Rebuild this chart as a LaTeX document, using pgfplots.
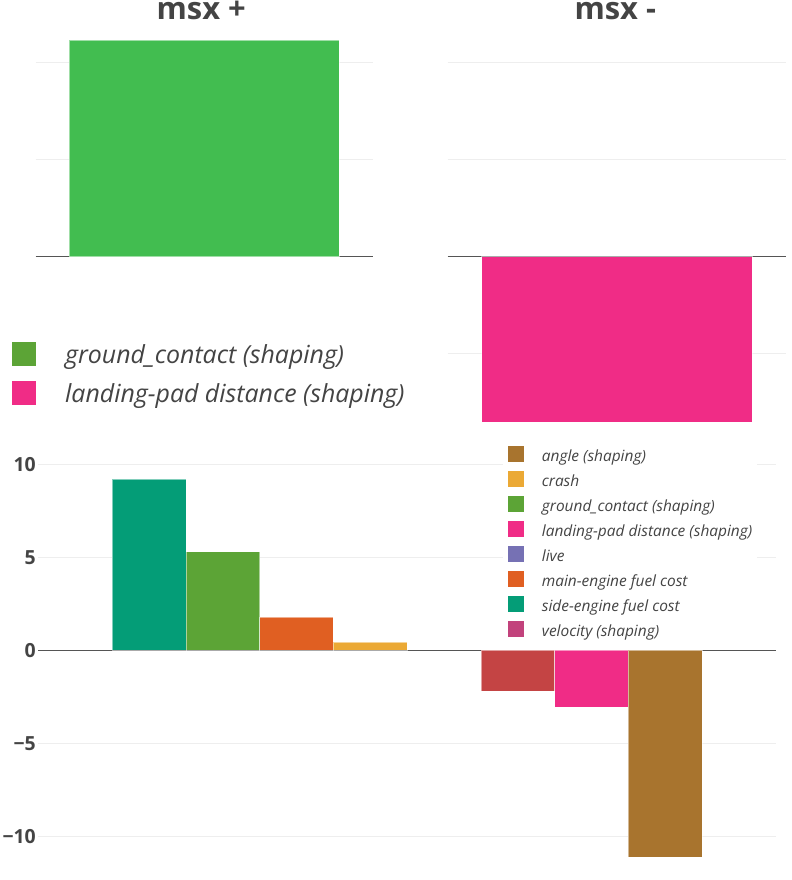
\documentclass[border=0pt]{standalone}
\usepackage{fontspec}
\setmainfont{Open Sans}
\usepackage{pgfplots}
\pgfplotsset{compat=1.18}
\definecolor{txt}{HTML}{444444}
\definecolor{gridc}{HTML}{EEEEEE}
\definecolor{zeroc}{HTML}{555555}
\definecolor{topgreen}{HTML}{42BD50}
\definecolor{cteal}{HTML}{049D77}
\definecolor{cgreen}{HTML}{5CA436}
\definecolor{corange}{HTML}{E05F22}
\definecolor{cyellow}{HTML}{EBA935}
\definecolor{cvelbar}{HTML}{C44444}
\definecolor{cvel}{HTML}{C2427C}
\definecolor{cpink}{HTML}{F02C86}
\definecolor{cbrown}{HTML}{A8742E}
\definecolor{cpurple}{HTML}{7671B4}
\pgfplotsset{
  every axis/.append style={
    scale only axis,
    axis line style={draw=none},
    tick style={draw=none},
    ymajorgrids,
    grid style={draw=gridc, line width=1bp},
    xtick=\empty,
    /pgf/number format/assume math mode=true,
    extra y ticks={0},
    extra y tick labels={},
    extra y tick style={grid style={draw=zeroc, line width=1.6bp}},
  },
  mybar/.style={ybar, bar shift=0pt, draw=white, draw opacity=0.5, line width=0.4bp, forget plot},
}
\begin{document}
\begin{tikzpicture}
\useasboundingbox (0,0) rectangle (792bp,-880bp);
\clip (0,0) rectangle (792bp,-880bp);

% top left: msx +
\begin{axis}[at={(35.5bp,-430.2bp)}, anchor=south west,
  width=337.5bp, height=401bp,
  xmin=-0.5, xmax=0.5, ymin=-1.785, ymax=2.34,
  ytick={-1,1,2}, yticklabels={},
  title={msx +},
  title style={font=\bfseries\fontsize{31}{31}\selectfont, text=txt, at={(0.5,1)}, anchor=base, yshift=3.7bp, xshift=-3bp, inner sep=0},
  legend style={at={(-0.0853,0.2332)}, anchor=north west, draw=none, fill=white,
    inner xsep=5bp, inner ysep=5bp, row sep=11.8bp, column sep=29.3bp,
    cells={anchor=west},
    nodes={inner sep=0, text height=19bp, text depth=6bp, font=\itshape\fontsize{25}{25}\selectfont, text=txt}},
  legend image code/.code={\fill[#1] (0bp,-9bp) rectangle (24bp,15bp);},
]
\addplot[mybar, bar width=0.8, fill=topgreen] coordinates {(0,2.23)};
\addlegendimage{fill=cgreen, draw=none}
\addlegendentry{ground\_contact (shaping)}
\addlegendimage{fill=cpink, draw=none}
\addlegendentry{landing-pad distance (shaping)}
\end{axis}

% top right: msx -
\begin{axis}[at={(447.7bp,-430.2bp)}, anchor=south west,
  width=338.1bp, height=401bp,
  xmin=-0.5, xmax=0.5, ymin=-1.785, ymax=2.34,
  ytick={-1,1,2}, yticklabels={},
  title={msx -},
  title style={font=\bfseries\fontsize{31}{31}\selectfont, text=txt, at={(0.5,1)}, anchor=base, yshift=3.7bp, xshift=-1.5bp, inner sep=0},
]
\addplot[mybar, bar width=0.8, fill=cpink] coordinates {(0,-1.70)};
\end{axis}

% bottom
\begin{axis}[at={(38.3bp,-866.3bp)}, anchor=south west,
  width=737.7bp, height=412.7bp,
  xmin=-0.5, xmax=1.5, ymin=-11.63, ymax=10.61,
  ytick={-10,-5,0,5,10}, yticklabels={−10,−5,0,5,10},
  yticklabel style={font=\bfseries\fontsize{19.5}{19.5}\selectfont, text=txt, inner sep=0, xshift=-2.3bp},
  legend style={at={(0.629,1.0305)}, anchor=north west, draw=none, fill=white,
    inner xsep=5bp, inner ysep=5bp, row sep=6.4bp, column sep=18.4bp,
    cells={anchor=west},
    nodes={inner sep=0, text height=11.8bp, text depth=3.7bp, font=\itshape\fontsize{15.5}{15.5}\selectfont, text=txt}},
  legend image code/.code={\fill[#1] (0bp,-5.15bp) rectangle (16bp,10.85bp);},
]
\addplot[mybar, bar width=0.2, fill=cteal] coordinates {(-0.2,9.23)};
\addplot[mybar, bar width=0.2, fill=cgreen] coordinates {(0,5.33)};
\addplot[mybar, bar width=0.2, fill=corange] coordinates {(0.2,1.82)};
\addplot[mybar, bar width=0.2, fill=cyellow] coordinates {(0.4,0.47)};
\addplot[mybar, bar width=0.2, fill=cvelbar] coordinates {(0.8,-2.17)};
\addplot[mybar, bar width=0.2, fill=cpink] coordinates {(1.0,-3.06)};
\addplot[mybar, bar width=0.2, fill=cbrown] coordinates {(1.2,-11.12)};
\addlegendimage{fill=cbrown, draw=none}
\addlegendentry{angle (shaping)}
\addlegendimage{fill=cyellow, draw=none}
\addlegendentry{crash}
\addlegendimage{fill=cgreen, draw=none}
\addlegendentry{ground\_contact (shaping)}
\addlegendimage{fill=cpink, draw=none}
\addlegendentry{landing-pad distance (shaping)}
\addlegendimage{fill=cpurple, draw=none}
\addlegendentry{live}
\addlegendimage{fill=corange, draw=none}
\addlegendentry{main-engine fuel cost}
\addlegendimage{fill=cteal, draw=none}
\addlegendentry{side-engine fuel cost}
\addlegendimage{fill=cvel, draw=none}
\addlegendentry{velocity (shaping)}
\end{axis}
\end{tikzpicture}
\end{document}
